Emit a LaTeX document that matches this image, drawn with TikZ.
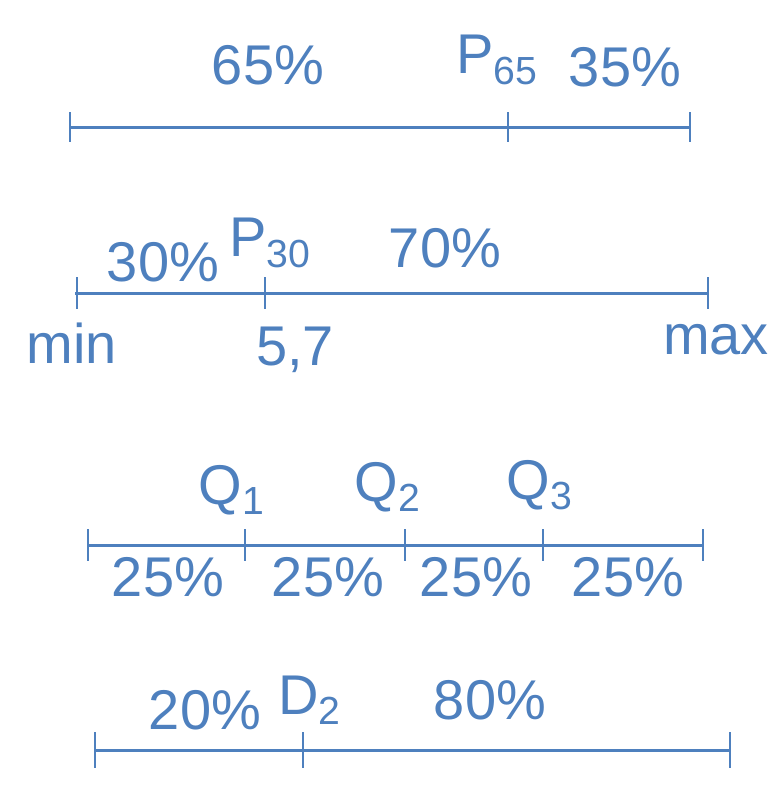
\documentclass[tikz,border=0pt]{standalone}
\usepackage{xcolor}
\usepackage{fontspec}
\setmainfont{Liberation Sans}
\usepackage{tikz}
\usetikzlibrary{positioning}
\definecolor{ink}{RGB}{78,128,190}

\begin{document}
\begin{tikzpicture}[
  x=0.5pt, y=-0.5pt,
  axis/.style={draw=ink, line width=1.5pt},
  tickmark/.style={draw=ink, line width=1.3pt},
  lbl/.style={text=ink, inner sep=0pt, font=\fontsize{28}{32}\selectfont}
]
  \useasboundingbox (0,0) rectangle (779,787);

  % P65
  \coordinate (a1) at (70,127);
  \coordinate (b1) at (690,127);
  \draw[axis] (a1) -- (b1);
  \foreach \x in {70,508,690} \draw[tickmark] (\x,127) ++(0,-15) -- ++(0,30);
  \node[lbl] (p65l) at (268,65) {65\%};
  \node[lbl] (p65) at (497,60) {P\textsubscript{65}};
  \node[lbl] (p65r) at (625,67) {35\%};

  % P30
  \coordinate (a2) at (75,293);
  \coordinate (b2) at (708,293);
  \draw[axis] (a2) -- (b2);
  \foreach \x in {77,265,708} \draw[tickmark] (\x,293) ++(0,-16) -- ++(0,32);
  \node[lbl] (p30l) at (163,262) {30\%};
  \node[lbl] (p30) at (270,243) {P\textsubscript{30}};
  \node[lbl] (p30r) at (445,248) {70\%};
  \node[lbl] (min) at (72,343) {min};
  \node[lbl] (val) at (295,350) {5,7};
  \node[lbl] (max) at (716,340) {max};

  % quartis
  \coordinate (a3) at (88,545);
  \coordinate (b3) at (703,545);
  \draw[axis] (a3) -- (b3);
  \foreach \x in {88,245,405,543,703} \draw[tickmark] (\x,545) ++(0,-16) -- ++(0,32);
  \node[lbl] (q1) at (232,490) {Q\textsubscript{1}};
  \node[lbl] (q2) at (388,487) {Q\textsubscript{2}};
  \node[lbl] (q3) at (540,485) {Q\textsubscript{3}};
  \foreach \x/\n in {168/s1,328/s2,476/s3,628/s4}
    \node[lbl] (\n) at (\x,577) {25\%};

  % D2
  \coordinate (a4) at (95,750);
  \coordinate (b4) at (730,750);
  \draw[axis] (a4) -- (b4);
  \foreach \x in {95,303,730} \draw[tickmark] (\x,750) ++(0,-18) -- ++(0,36);
  \node[lbl] (d2l) at (205,710) {20\%};
  \node[lbl] (d2) at (310,700) {D\textsubscript{2}};
  \node[lbl] (d2r) at (490,700) {80\%};
\end{tikzpicture}
\end{document}
